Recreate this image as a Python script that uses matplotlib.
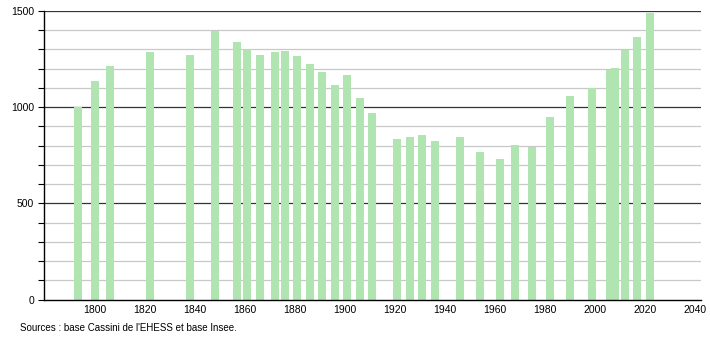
import matplotlib
matplotlib.use("Agg")
import matplotlib.pyplot as plt
import numpy as np

# census years and population
years = [1793, 1800, 1806, 1822, 1838, 1848, 1857, 1861, 1866, 1872,
         1876, 1881, 1886, 1891, 1896, 1901, 1906, 1911, 1921, 1926,
         1931, 1936, 1946, 1954, 1962, 1968, 1975, 1982, 1990, 1999,
         2006, 2008, 2012, 2017, 2022]
population = [998, 1135, 1213, 1286, 1272, 1396, 1337, 1300, 1272, 1286,
              1291, 1266, 1223, 1182, 1114, 1166, 1047, 971, 832, 846,
              855, 824, 846, 768, 730, 803, 794, 947, 1057, 1097,
              1192, 1201, 1296, 1362, 1486]
x_ticks = [1800, 1820, 1840, 1860, 1880, 1900, 1920, 1940, 1960, 1980, 2000, 2020, 2040]
y_major = [0, 500, 1000, 1500]
source_text = "Sources : base Cassini de l'EHESS et base Insee."

plt.rcParams["font.family"] = ["Liberation Sans", "DejaVu Sans"]

fig = plt.figure(figsize=(7.1, 3.4), dpi=100)
ax = fig.add_axes([0.062, 0.1185, 0.925, 0.85])

# horizontal grid: dark every 500, light every 100
for v in range(100, 1501, 100):
    if v % 500 == 0:
        ax.axhline(v, color="#333333", lw=0.9, zorder=1)
    else:
        ax.axhline(v, color="#c8c8c8", lw=0.9, zorder=1)

ax.bar(years, population, width=3.2, color="#b0e4b0", zorder=2)

ax.set_xlim(1779.6, 2042.4)
ax.set_ylim(0, 1500)
ax.set_xticks(x_ticks)
ax.set_xticklabels([str(t) for t in x_ticks], fontsize=7.5)
ax.set_yticks(y_major)
ax.set_yticklabels([str(t) for t in y_major], fontsize=7.5)
ax.set_yticks(np.arange(0, 1501, 100), minor=True)
ax.tick_params(axis="x", length=0, pad=4)
ax.tick_params(axis="y", which="both", length=4, width=0.8, pad=3)

for side in ("top", "right"):
    ax.spines[side].set_visible(False)
ax.spines["left"].set_linewidth(1.0)
ax.spines["bottom"].set_linewidth(1.0)

fig.text(0.028, 0.035, source_text, fontsize=7, ha="left", va="center")

fig.savefig("out.png", dpi=100)
